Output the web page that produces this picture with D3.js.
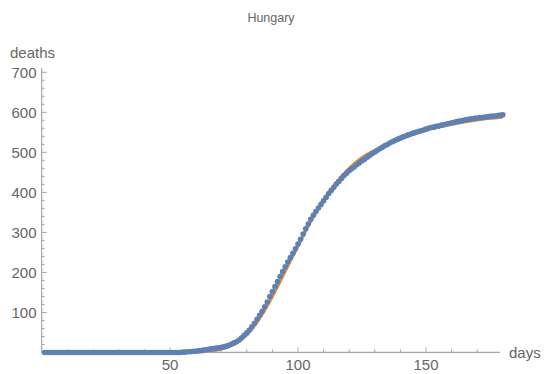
<!DOCTYPE html>
<html><head><meta charset="utf-8">
<script src="https://cdn.jsdelivr.net/npm/d3@7"></script>
<style>body{margin:0;background:#fff}svg{display:block}text{font-family:"Liberation Sans",Arial,sans-serif}</style>
</head><body><svg id="c" width="545" height="374"></svg>
<script>
const title = "Hungary";
const xLabel = "days";
const yLabel = "deaths";
const xTicks = [50, 100, 150];
const yTicks = [100, 200, 300, 400, 500, 600, 700];
// observed cumulative deaths, days 55..180 (days 1..54 are 0)
const firstDay = 55;
const observed = [1,1,2,2,3,3,4,5,6,7,8,9,10,11,12,13,14,16,18,21,24,27,31,37,43,49,56,64,73,83,
93,103,114,126,140,152,165,177,190,202,214,226,237,248,259,271,283,296,309,321,
333,343,352,361,370,379,388,397,405,413,421,428,435,442,448,454,459,464,469,474,
479,483,488,492,497,501,505,509,513,517,520,524,527,530,533,536,539,541,544,546,
548,550,552,554,556,558,560,562,563,565,566,568,569,571,572,574,575,577,578,579,
581,582,583,584,585,586,587,587,588,589,590,591,591,592,593,594];
// fitted curve
const fitDays = [1,50,55,60,65,70,75,80,85,90,95,100,105,110,115,120,125,130,135,140,145,150,155,160,165,170,175,180];
const fitVals = [0,0,0,1,3,8,20,44,85,140,203,266,328,382,425,460,487,505,520,533,545,555,563,570,576,581,585,588];

const days = d3.range(1, 181);
const deaths = days.map(d => d < firstDay ? 0 : observed[d - firstDay]);

const svg = d3.select("#c");
const x = d3.scaleLinear().domain([0, 180]).range([42, 502.8]);
const y = d3.scaleLinear().domain([0, 700]).range([352.5, 72.3]);
const axisY = 352.3, axisX = 41.7;
const axCol = "#a6a6a6", txtCol = "#666";

// fitted line
svg.append("path")
  .datum(fitDays.map((d, i) => [d, fitVals[i]]))
  .attr("fill", "none").attr("stroke", "#ee8c1c").attr("stroke-width", 3)
  .attr("d", d3.line().x(d => x(d[0])).y(d => y(d[1])).curve(d3.curveMonotoneX));

// axes
const g = svg.append("g");
g.append("line").attr("x1", axisX).attr("x2", 500).attr("y1", axisY).attr("y2", axisY).attr("stroke", axCol).attr("stroke-width", 1.2);
g.append("line").attr("x1", axisX).attr("x2", axisX).attr("y1", axisY).attr("y2", 68).attr("stroke", axCol).attr("stroke-width", 1.2);
d3.range(10, 180, 10).forEach(v => {
  const major = v % 50 === 0;
  g.append("line").attr("x1", x(v)).attr("x2", x(v)).attr("y1", axisY).attr("y2", axisY - (major ? 5 : 3)).attr("stroke", axCol);
});
d3.range(20, 720, 20).forEach(v => {
  const major = v % 100 === 0;
  g.append("line").attr("x1", axisX).attr("x2", axisX + (major ? 5 : 3)).attr("y1", y(v)).attr("y2", y(v)).attr("stroke", axCol);
});
xTicks.forEach(v => g.append("text").attr("x", x(v)).attr("y", 369.5).attr("text-anchor", "middle")
  .attr("font-size", 15).attr("fill", txtCol).text(v));
yTicks.forEach(v => g.append("text").attr("x", 36.5).attr("y", y(v) + 5.3).attr("text-anchor", "end")
  .attr("font-size", 15).attr("fill", txtCol).text(v));
g.append("text").attr("x", 509).attr("y", 357.5).attr("font-size", 15).attr("fill", txtCol).text(xLabel);
g.append("text").attr("x", 10).attr("y", 58).attr("font-size", 15).attr("fill", txtCol).text(yLabel);
g.append("text").attr("x", 271).attr("y", 22).attr("text-anchor", "middle").attr("font-size", 12.5).attr("fill", txtCol).text(title);

// observed points
svg.append("g").selectAll("circle").data(days).join("circle")
  .attr("cx", d => x(d)).attr("cy", (d, i) => y(deaths[i])).attr("r", 2.8)
  .attr("fill", "#5e81b5");
</script></body></html>
